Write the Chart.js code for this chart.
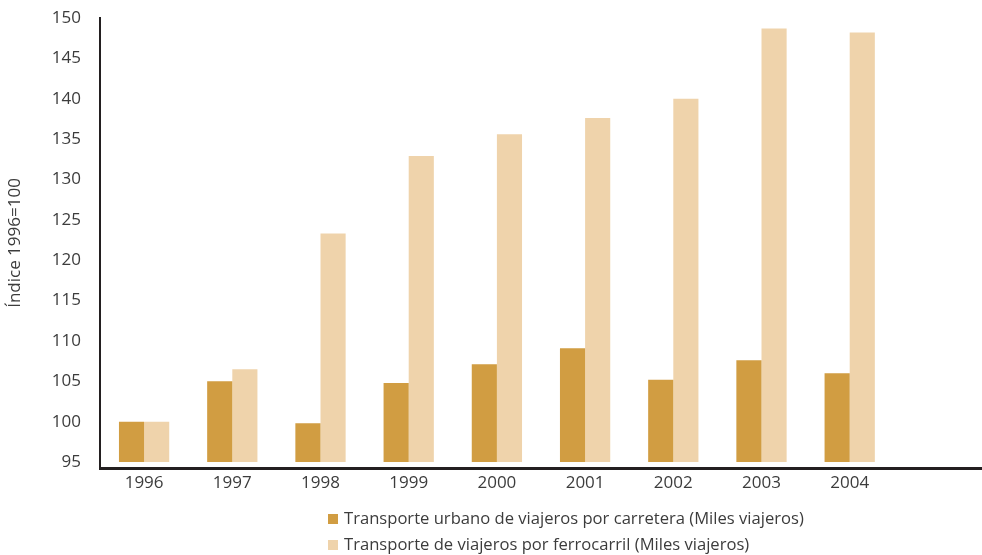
<!DOCTYPE html>
<html>
<head>
<meta charset="utf-8">
<script src="https://cdn.jsdelivr.net/npm/chart.js@4/dist/chart.umd.min.js"></script>
<style>
  html, body { margin: 0; padding: 0; background: #fff; }
  #wrap { position: relative; width: 982px; height: 555px; }
  #legend { position: absolute; left: 328px; top: 507px; font-family: "Open Sans", sans-serif; font-size: 16.6px; color: #3c3c3c; }
  #legend div { height: 26px; line-height: 22px; white-space: nowrap; }
  #legend span.box { display: inline-block; width: 10px; height: 10px; margin-right: 6px; vertical-align: 0px; }
</style>
</head>
<body>
<div id="wrap">
  <canvas id="chart" width="982" height="555"></canvas>
  <div id="legend"></div>
</div>
<script>
const years = ['1996', '1997', '1998', '1999', '2000', '2001', '2002', '2003', '2004', ''];
const carretera = [100, 105.0, 99.8, 104.8, 107.1, 109.1, 105.2, 107.6, 106.0];
const ferrocarril = [100, 106.5, 123.3, 132.9, 135.6, 137.6, 140.0, 148.7, 148.2];
const yTicks = [95, 100, 105, 110, 115, 120, 125, 130, 135, 140, 145, 150];

const darkColor = '#D19D42';
const lightColor = '#EFD3AB';
const textColor = '#3c3c3c';

const ctx = document.getElementById('chart').getContext('2d');
const chart = new Chart(ctx, {
  type: 'bar',
  data: {
    labels: years,
    datasets: [{
      label: 'Transporte urbano de viajeros por carretera (Miles viajeros)',
      data: carretera,
      backgroundColor: darkColor,
      base: 95,
      barPercentage: 1,
      categoryPercentage: 0.57
    }, {
      label: 'Transporte de viajeros por ferrocarril (Miles viajeros)',
      data: ferrocarril,
      backgroundColor: lightColor,
      base: 95,
      barPercentage: 1,
      categoryPercentage: 0.57
    }]
  },
  options: {
    responsive: false,
    animation: false,
    layout: { padding: { top: 18, right: 0, bottom: 57, left: 0 } },
    plugins: { legend: { display: false }, tooltip: { enabled: false } },
    scales: {
      x: {
        grid: { display: false, drawTicks: false },
        border: { display: true, color: '#231f20', width: 3 },
        ticks: { color: textColor, padding: 5, font: { family: 'Open Sans', size: 17 } },
        afterFit: (s) => { s.height = 30; s.paddingLeft = 0; s.paddingRight = 0; }
      },
      y: {
        min: 94.26,
        max: 150,
        grid: { display: false, drawTicks: false },
        border: { display: true, color: '#231f20', width: 2 },
        ticks: { color: textColor, padding: 19, font: { family: 'Open Sans', size: 17 } },
        afterBuildTicks: (s) => { s.ticks = yTicks.map(v => ({ value: v })); },
        afterFit: (s) => { s.width = 100; s.paddingTop = 0; s.paddingBottom = 0; },
        title: {
          display: true,
          text: 'Índice 1996=100',
          color: textColor,
          font: { family: 'Open Sans', size: 17 },
          padding: { top: 5, bottom: 0 }
        }
      }
    }
  }
});

const legend = document.getElementById('legend');
chart.data.datasets.forEach(ds => {
  const row = document.createElement('div');
  row.innerHTML = '<span class="box" style="background:' + ds.backgroundColor + '"></span>' + ds.label;
  legend.appendChild(row);
});
</script>
</body>
</html>
